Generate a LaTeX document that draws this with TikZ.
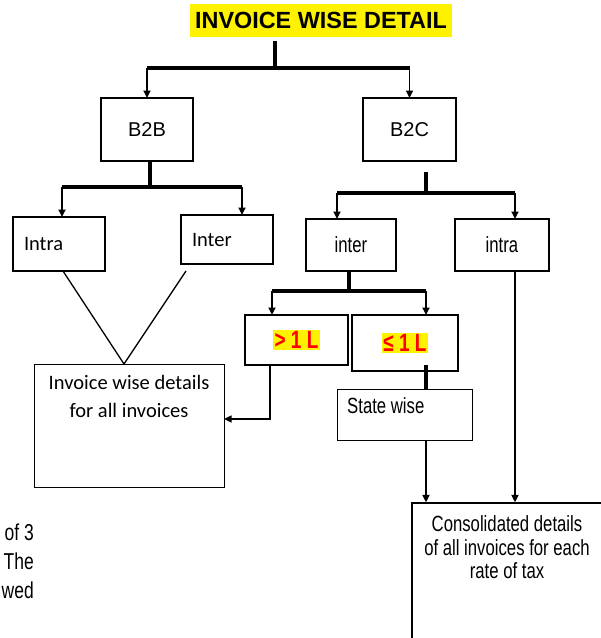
\documentclass[tikz,border=0pt]{standalone}
\usepackage{fontspec}
\setmainfont{Liberation Sans}
\newfontfamily\narrowfont[FakeStretch=0.76]{Liberation Sans}
\newfontfamily\calfont{Carlito}
\usetikzlibrary{arrows.meta,positioning}
\setlength{\fboxsep}{1.5pt}

\tikzset{
  box/.style={draw, line width=1.9pt, inner sep=0pt, outer sep=0pt, align=center},
  plainbox/.style={draw, line width=1pt, inner sep=0pt, outer sep=0pt},
  bar/.style={line width=3.2pt},
  drop/.style={line width=1.7pt, -{Triangle[width=7pt,length=7.5pt]}},
  link/.style={line width=1.3pt},
  arial/.style={font=\fontsize{20}{24}\selectfont},
  narrow/.style={font=\narrowfont\fontsize{22}{23.5}\selectfont},
  calibri/.style={font=\calfont\fontsize{20.5}{28}\selectfont},
  amount/.style={font=\narrowfont\bfseries\fontsize{25}{27}\selectfont, text=red},
}

\begin{document}
\begin{tikzpicture}[x=1pt, y=-1pt]
\useasboundingbox (0,0) rectangle (601,638);

% heading
\node[fill=yellow, minimum width=262pt, minimum height=33pt, inner sep=0pt,
  font=\bfseries\fontsize{23.4}{28}\selectfont] (title) at (321,20.5) {INVOICE WISE DETAIL};

% first level
\node[box, arial, minimum width=92pt, minimum height=63pt] (b2b) at (147,129.5) {B2B};
\node[box, arial, minimum width=93pt, minimum height=63pt] (b2c) at (409.5,129.5) {B2C};

% second level
\node[box, calibri, text width=70pt, inner xsep=11pt, align=left, minimum height=54pt] (intra) at (59,244) {Intra};
\node[box, calibri, text width=70pt, inner xsep=11pt, align=left, minimum height=49pt] (inter) at (227,239.5) {Inter};
\node[box, narrow, minimum width=90pt, minimum height=52pt] (b2cinter) at (351,245) {inter};
\node[box, narrow, minimum width=94pt, minimum height=52pt] (b2cintra) at (502,245) {intra};

% amount split
\node[box, amount, minimum width=103pt, minimum height=50pt] (gt) at (296.5,340) {\raisebox{-3pt}{\colorbox{yellow}{> 1 L}}};
\node[box, amount, minimum width=106pt, minimum height=56pt] (le) at (405,343) {\raisebox{-4pt}{\colorbox{yellow}{≤ 1 L}}};

% results
\node[plainbox, minimum width=190pt, minimum height=123pt,
  label={[calibri, align=center, anchor=north, inner sep=0pt, yshift=-11pt]north:{Invoice wise details\\for all invoices}}] (invoice) at (129,425.5) {};
\node[plainbox, minimum width=135pt, minimum height=51pt,
  label={[narrow, anchor=north west, inner sep=0pt, xshift=10pt, yshift=-8pt]north west:State wise}] (statewise) at (404.5,414.5) {};
\node[draw, line width=1.3pt, inner sep=0pt, minimum width=190pt, minimum height=147pt,
  label={[narrow, align=center, anchor=north, inner sep=0pt, yshift=-13pt]north:{Consolidated details\\of all invoices for each\\rate of tax}}] (consol) at (507,576.5) {};

% cut-off text on the left
\node[narrow, font=\narrowfont\fontsize{23}{26}\selectfont, anchor=east, inner sep=0pt] (frag1) at (34,532) {of 3};
\node[narrow, font=\narrowfont\fontsize{23}{26}\selectfont, anchor=east, inner sep=0pt] (frag2) at (34,561) {The};
\node[narrow, font=\narrowfont\fontsize{23}{26}\selectfont, anchor=east, inner sep=0pt] (frag3) at (34,590) {wed};

% split points
\coordinate (tsplit) at (275,68);
\coordinate (b2bsplit) at (150,187);
\coordinate (intradrop) at (62,187);
\coordinate (interdrop) at (242,187);
\coordinate (b2csplit) at (426,193);
\coordinate (b2cinterdrop) at (337,193);
\coordinate (b2cintradrop) at (515,193);
\coordinate (intersplit) at (349,291);
\coordinate (gtdrop) at (272,291);
\coordinate (ledrop) at (426,291);

% heading to B2B / B2C
\draw[bar] ([yshift=-4pt]title.south -| tsplit) -- (tsplit);
\draw[bar] (b2b.north |- tsplit) -- (b2c.north |- tsplit);
\draw[drop] (b2b.north |- tsplit) -- (b2b.north);
\draw[drop] (b2c.north |- tsplit) -- (b2c.north);

% B2B split
\draw[bar] (b2b.south -| b2bsplit) -- (b2bsplit);
\draw[bar] (intradrop) -- (interdrop);
\draw[drop] (intradrop) -- (intradrop |- intra.north);
\draw[drop] (interdrop) -- (interdrop |- inter.north);

% B2C split
\draw[bar] ([yshift=-11pt]b2c.south -| b2csplit) -- (b2csplit);
\draw[bar] (b2cinterdrop) -- (b2cintradrop);
\draw[drop] (b2cinterdrop) -- (b2cinterdrop |- b2cinter.north);
\draw[drop] (b2cintradrop) -- (b2cintradrop |- b2cintra.north);

% inter split
\draw[bar] (b2cinter.south -| intersplit) -- (intersplit);
\draw[bar] (gtdrop) -- (ledrop);
\draw[drop] (gtdrop) -- (gtdrop |- gt.north);
\draw[drop] (ledrop) -- (ledrop |- le.north);

% B2B results
\draw[link] ([xshift=4pt]intra.south) -- ([xshift=-5pt]invoice.north);
\draw[link] ([xshift=-41pt,yshift=-7pt]inter.south) -- ([xshift=-5pt]invoice.north);
\draw[drop, line width=1.4pt] ([xshift=-26.5pt]gt.south) |- ([yshift=6.5pt]invoice.east);

% B2C results
\draw[bar] ([xshift=21pt,yshift=6pt]le.south) -- ([xshift=21pt]le.south |- statewise.north);
\draw[drop] ([xshift=21.5pt]statewise.south) -- ([xshift=21.5pt]statewise.south |- consol.north);
\draw[drop] ([xshift=13pt]b2cintra.south) -- ([xshift=13pt]b2cintra.south |- consol.north);
\end{tikzpicture}
\end{document}
